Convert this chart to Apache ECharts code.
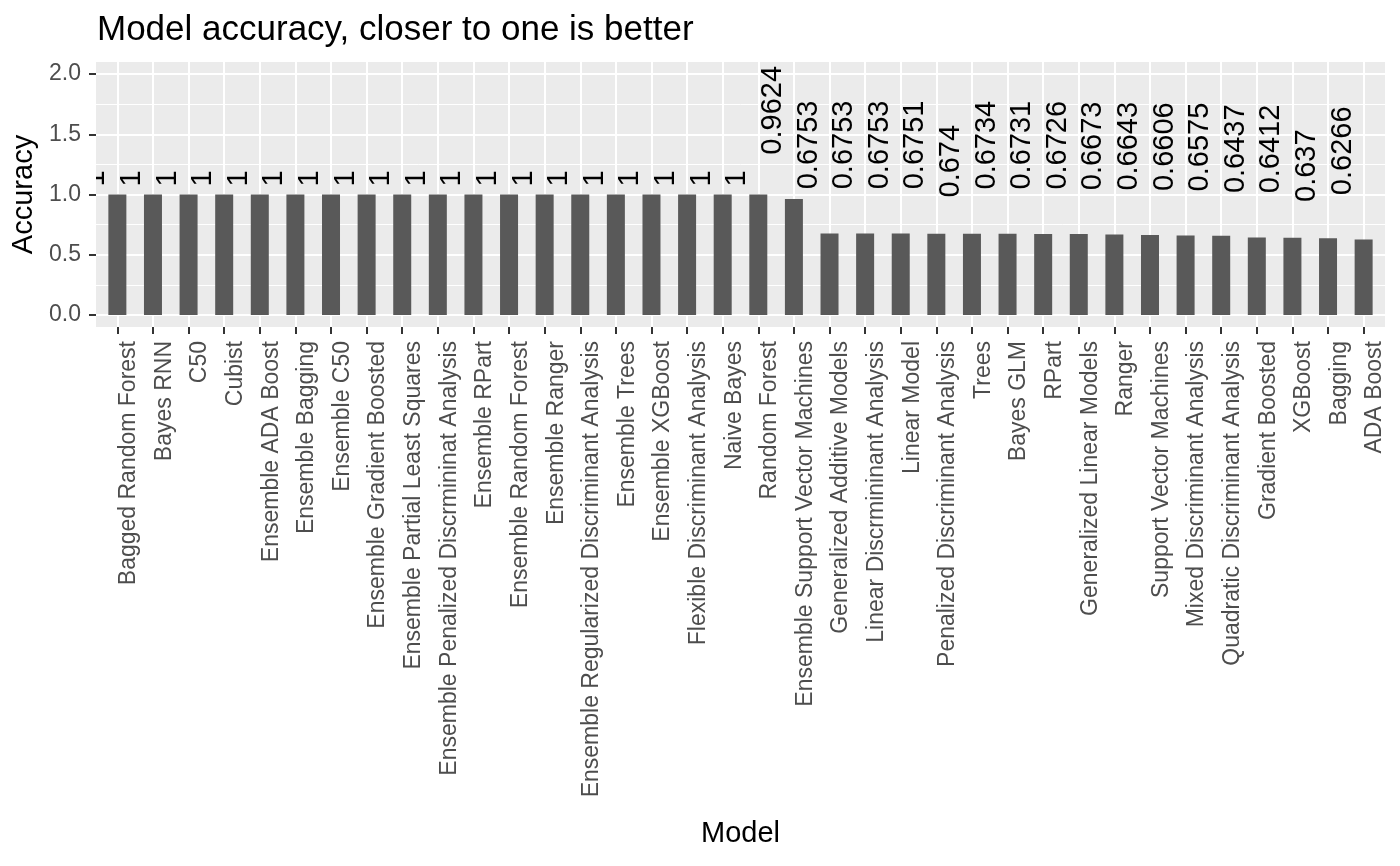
<!DOCTYPE html>
<html>
<head>
<meta charset="utf-8">
<script src="https://cdn.jsdelivr.net/npm/echarts@6/dist/echarts.min.js"></script>
<style>html,body{margin:0;padding:0;background:#fff;}#c{width:1400px;height:866px;}</style>
</head>
<body>
<div id="c"></div>
<script>
const categories = [
  "Bagged Random Forest", "Bayes RNN", "C50", "Cubist", "Ensemble ADA Boost",
  "Ensemble Bagging", "Ensemble C50", "Ensemble Gradient Boosted",
  "Ensemble Partial Least Squares", "Ensemble Penalized Discrmininat Analysis",
  "Ensemble RPart", "Ensemble Random Forest", "Ensemble Ranger",
  "Ensemble Regularized Discriminant Analysis", "Ensemble Trees", "Ensemble XGBoost",
  "Flexible Discriminant Analysis", "Naive Bayes", "Random Forest",
  "Ensemble Support Vector Machines", "Generalized Additive Models",
  "Linear Discrmininant Analysis", "Linear Model", "Penalized Discriminant Analysis",
  "Trees", "Bayes GLM", "RPart", "Generalized Linear Models", "Ranger",
  "Support Vector Machines", "Mixed Discriminant Analysis",
  "Quadratic Discriminant Analysis", "Gradient Boosted", "XGBoost", "Bagging", "ADA Boost"
];
const accuracy = [
  1, 1, 1, 1, 1, 1, 1, 1, 1, 1, 1, 1, 1, 1, 1, 1, 1, 1, 1,
  0.9624, 0.6753, 0.6753, 0.6753, 0.6751, 0.674, 0.6734, 0.6731, 0.6726,
  0.6673, 0.6643, 0.6606, 0.6575, 0.6437, 0.6412, 0.637, 0.6266
];
const yTicks = [0, 0.5, 1, 1.5, 2];
const yMinorTicks = [0.25, 0.75, 1.25, 1.75];

const FONT = '"Liberation Sans", Arial, Helvetica, sans-serif';
const LABEL_SIZE = 29;
const ctx = document.createElement('canvas').getContext('2d');
ctx.font = LABEL_SIZE + 'px ' + FONT;
function textWidth(s) { return ctx.measureText(s).width; }

const catIdx = categories.map((_, i) => i);
const barData = accuracy.map((v, i) => ({
  value: [i, v],
  label: { distance: textWidth(String(v)) * 0.5 }
}));

const chart = echarts.init(document.getElementById('c'));
chart.setOption({
  animation: false,
  backgroundColor: '#ffffff',
  textStyle: { fontFamily: FONT },
  title: {
    text: 'Model accuracy, closer to one is better',
    left: 92, top: 8,
    textStyle: { fontFamily: FONT, fontSize: 35, fontWeight: 'normal', color: '#000' }
  },
  grid: {
    left: 96, right: 15, top: 62, bottom: 539,
    show: true, backgroundColor: '#EBEBEB', borderWidth: 0
  },
  xAxis: {
    type: 'value', min: -0.6, max: 35.6,
    name: 'Model', nameLocation: 'middle', nameGap: 492,
    nameTextStyle: { fontFamily: FONT, fontSize: 29, color: '#000' },
    axisLine: { show: false, onZero: false },
    axisTick: { show: true, customValues: catIdx, length: 7, lineStyle: { color: '#333333', width: 2 } },
    axisLabel: {
      customValues: catIdx,
      formatter: v => categories[v],
      rotate: 90, align: 'right', verticalAlign: 'top', margin: 14,
      fontFamily: FONT, fontSize: 23, color: '#4D4D4D'
    },
    splitLine: { show: true, lineStyle: { color: '#ffffff', width: 2 } }
  },
  yAxis: [
    {
      type: 'value', min: -0.1, max: 2.1,
      name: 'Accuracy', nameLocation: 'middle', nameGap: 55,
      nameTextStyle: { fontFamily: FONT, fontSize: 29, color: '#000' },
      axisLine: { show: false, onZero: false },
      axisTick: { show: true, customValues: yTicks, length: 7, lineStyle: { color: '#333333', width: 2 } },
      axisLabel: {
        customValues: yTicks, formatter: v => v.toFixed(1), margin: 15,
        fontFamily: FONT, fontSize: 23, color: '#4D4D4D'
      },
      splitLine: { show: true, lineStyle: { color: '#ffffff', width: 2 } }
    },
    {
      type: 'value', min: -0.1, max: 2.1, position: 'left',
      axisLine: { show: false, onZero: false },
      axisTick: { show: false, customValues: yMinorTicks },
      axisLabel: { show: false, customValues: yMinorTicks },
      splitLine: { show: true, lineStyle: { color: '#ffffff', width: 1 } }
    }
  ],
  series: [{
    type: 'bar',
    yAxisIndex: 0,
    barWidth: 18,
    data: barData,
    itemStyle: { color: '#595959' },
    label: {
      show: true, position: 'top', rotate: 90,
      align: 'left', verticalAlign: 'middle', offset: [0, -21],
      formatter: p => String(p.value[1]),
      fontFamily: FONT, fontSize: LABEL_SIZE, color: '#000'
    }
  }]
});

// Clip the part of the first value label that falls outside the panel (as ggplot does)
const corner = chart.convertToPixel({ gridIndex: 0 }, [-0.6, accuracy[0]]);
chart.setOption({
  graphic: [{
    type: 'rect', z: 100, silent: true,
    shape: { x: corner[0] - 12, y: corner[1] - 32, width: 12, height: 28 },
    style: { fill: '#ffffff' }
  }]
});
</script>
</body>
</html>
